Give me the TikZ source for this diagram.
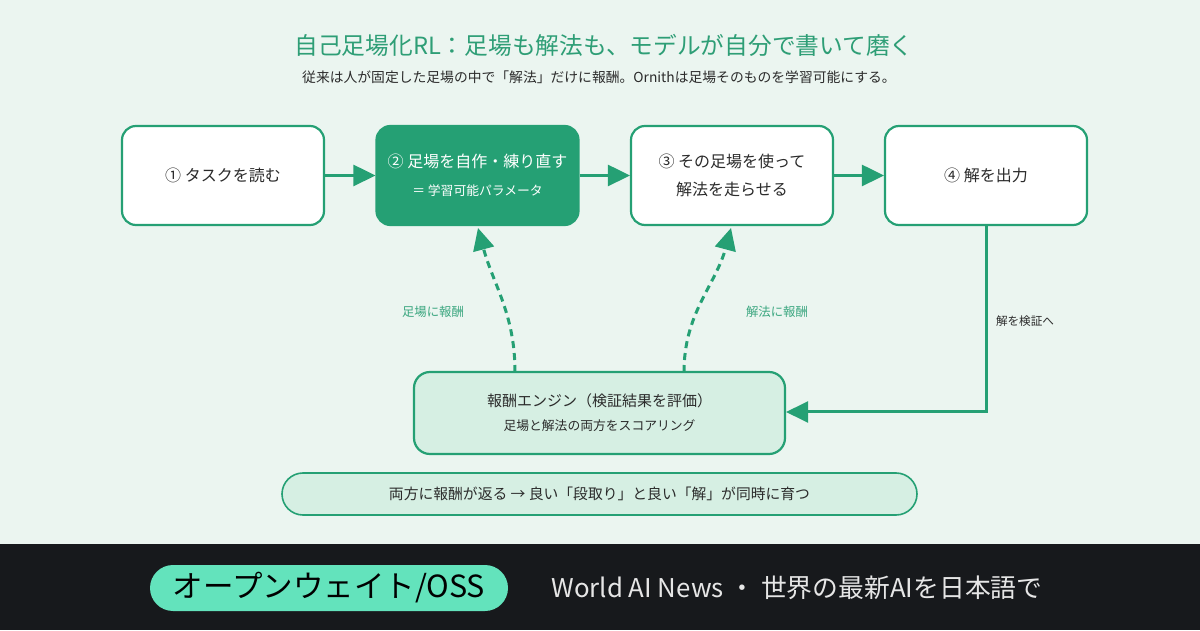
\documentclass[tikz,border=0pt]{standalone}
\usepackage{fontspec}
\setmainfont{Noto Sans CJK JP}
\usetikzlibrary{arrows.meta}
\definecolor{bg}{HTML}{EBF5F0}
\definecolor{band}{HTML}{17191C}
\definecolor{grn}{HTML}{25A074}
\definecolor{ttl}{HTML}{2E9E76}
\definecolor{lite}{HTML}{D6EFE3}
\definecolor{txt}{HTML}{2B2B2B}
\definecolor{lbl}{HTML}{3AA67F}
\definecolor{osspill}{HTML}{63E3BC}
\definecolor{bandtxt}{HTML}{E6E6E6}
\tikzset{
  stepbox/.style={draw=grn, line width=2.2pt, fill=white, rounded corners=14pt,
    minimum width=202pt, minimum height=99pt, inner sep=0pt, align=center,
    text=txt, font=\fontsize{16}{28}\selectfont},
  activebox/.style={stepbox, fill=grn, text=white},
  rewardbox/.style={draw=grn, line width=2.2pt, fill=lite, rounded corners=16pt,
    minimum width=371pt, minimum height=82pt, inner sep=0pt, align=center,
    text=txt, font=\fontsize{15}{24}\selectfont},
  pillbox/.style={draw=grn, line width=1.6pt, fill=lite, rounded corners=21pt,
    minimum width=635pt, minimum height=42pt, inner sep=0pt, text=txt,
    font=\fontsize{14.8}{17}\selectfont},
  conn/.style={draw=grn, line width=3pt, -{Triangle[length=22pt,width=21pt]}},
  dashconn/.style={conn, dash pattern=on 7pt off 5pt},
  glabel/.style={text=lbl, font=\fontsize{12.4}{15}\selectfont},
  dlabel/.style={text=txt, font=\fontsize{11.6}{14}\selectfont},
}
\begin{document}
\begin{tikzpicture}[x=1pt,y=1pt]
\useasboundingbox (0,0) rectangle (1200,630);
\fill[bg] (0,0) rectangle (1200,630);
\fill[band] (0,0) rectangle (1200,86);

\node[text=ttl, font=\fontsize{23.7}{28}\selectfont] (title) at (604,585)
  {自己足場化RL：足場も解法も、モデルが自分で書いて磨く};
\node[text=txt, font=\fontsize{13.8}{16}\selectfont] (sub) at (599,553)
  {従来は人が固定した足場の中で「解法」だけに報酬。Ornithは足場そのものを学習可能にする。};

\node[stepbox] (b1) at (223,454.5) {① タスクを読む};
\node[activebox] (b2) at (477.5,454.5)
  {② 足場を自作・練り直す\\{\fontsize{12.8}{28}\selectfont ＝ 学習可能パラメータ}};
\node[stepbox] (b3) at (732,454.5) {③ その足場を使って\\解法を走らせる};
\node[stepbox] (b4) at (986,454.5) {④ 解を出力};

\draw[conn] (b1.east) -- (b2.west);
\draw[conn] (b2.east) -- (b3.west);
\draw[conn] (b3.east) -- (b4.west);

\node[rewardbox] (rw) at (599.5,217)
  {報酬エンジン（検証結果を評価）\\{\fontsize{12.8}{24}\selectfont 足場と解法の両方をスコアリング}};

\node[pillbox] (pl) at (599.5,136)
  {両方に報酬が返る → 良い「段取り」と良い「解」が同時に育つ};

\coordinate (ls) at (515,258);
\coordinate (lt) at (478,402);
\coordinate (rs) at (684,258);
\coordinate (rt) at (731,402);
\draw[dashconn] (ls) to[out=90,in=-75] (lt);
\draw[dashconn] (rs) to[out=90,in=-105] (rt);

\node[glabel] (l1) at (433,318) {足場に報酬};
\node[glabel] (l2) at (777,318) {解法に報酬};

\coordinate (corner) at (986,218);
\draw[conn] (b4.south) -- (corner) -- (rw.east |- corner);
\node[dlabel] (l3) at (1025,309) {解を検証へ};

\node[fill=osspill, rounded corners=23pt, minimum width=358pt, minimum height=46pt,
  inner sep=0pt, text=black, font=\fontsize{30.5}{34}\selectfont] (oss) at (329,42)
  {オープンウェイト/OSS};
\node[anchor=west, text=bandtxt, font=\fontsize{25.8}{28}\selectfont] (wan) at (548,42)
  {World AI News ・ 世界の最新AIを日本語で};
\end{tikzpicture}
\end{document}
